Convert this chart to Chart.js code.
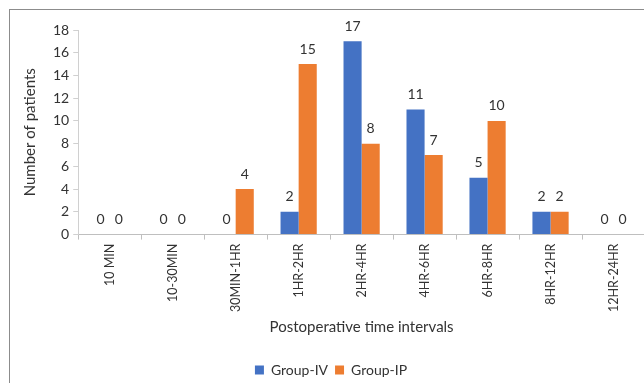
<!DOCTYPE html>
<html>
<head>
<meta charset="utf-8">
<script src="https://cdn.jsdelivr.net/npm/chart.js@4.4.0/dist/chart.umd.min.js"></script>
<style>
  html, body { margin: 0; padding: 0; background: #fff; overflow: hidden; }
  #frame {
    position: absolute; left: 9px; top: 9px;
    width: 655px; height: 380px;
    border-left: 1px solid #8c8c8c; border-top: 1px solid #8c8c8c;
  }
</style>
</head>
<body>
<div id="frame"><canvas id="chart" width="655" height="377"></canvas></div>
<script>
// Categories and series
const intervals = ['10 MIN', '10-30MIN', '30MIN-1HR', '1HR-2HR', '2HR-4HR', '4HR-6HR', '6HR-8HR', '8HR-12HR', '12HR-24HR'];
const groupIV = [0, 0, 0, 2, 17, 11, 5, 2, 0];
const groupIP = [0, 0, 4, 15, 8, 7, 10, 2, 0];
const yTicks = [0, 2, 4, 6, 8, 10, 12, 14, 16, 18];

const textColor = '#333333';
const fontFamily = 'Lato, "Open Sans", sans-serif';

// Draw the value above each bar (zeros too)
const valueLabels = {
    id: 'valueLabels',
    afterDatasetsDraw(chart) {
        const ctx = chart.ctx;
        ctx.save();
        ctx.font = '14px ' + fontFamily;
        ctx.fillStyle = textColor;
        ctx.textAlign = 'center';
        ctx.textBaseline = 'bottom';
        chart.data.datasets.forEach((ds, i) => {
            const meta = chart.getDatasetMeta(i);
            meta.data.forEach((bar, j) => {
                ctx.fillText(String(ds.data[j]), bar.x, bar.y - 8);
            });
        });
        ctx.restore();
    }
};

new Chart(document.getElementById('chart'), {
    type: 'bar',
    data: {
        labels: intervals,
        datasets: [
            { label: 'Group-IV', data: groupIV, backgroundColor: '#4472C4' },
            { label: 'Group-IP', data: groupIP, backgroundColor: '#ED7D31' }
        ]
    },
    options: {
        responsive: false,
        animation: false,
        categoryPercentage: 0.575,
        barPercentage: 1,
        layout: { padding: { top: 20, right: 20, left: 7, bottom: 0 } },
        plugins: {
            legend: {
                position: 'bottom',
                labels: {
                    boxWidth: 9, boxHeight: 9, padding: 7,
                    color: textColor,
                    font: { family: fontFamily, size: 14 }
                }
            },
            tooltip: { enabled: false }
        },
        scales: {
            x: {
                grid: { drawOnChartArea: false, drawTicks: true, tickLength: 5, color: '#bfbfbf', offset: true },
                border: { color: '#bfbfbf' },
                ticks: {
                    color: textColor, minRotation: 90, maxRotation: 90, padding: 4,
                    font: { family: fontFamily, size: 12.5 }
                },
                title: {
                    display: true, text: 'Postoperative time intervals', color: textColor,
                    font: { family: fontFamily, size: 15 }, padding: { top: 2, bottom: 20 }
                }
            },
            y: {
                min: 0, max: 18,
                afterBuildTicks(axis) { axis.ticks = yTicks.map(v => ({ value: v })); },
                grid: { drawOnChartArea: false, drawTicks: true, tickLength: 5, color: '#d0d0d0' },
                border: { color: '#d0d0d0' },
                ticks: { color: textColor, padding: 4, font: { family: fontFamily, size: 14 } },
                title: {
                    display: true, text: 'Number of patients', color: textColor,
                    font: { family: fontFamily, size: 15 }, padding: { bottom: 10 }
                }
            }
        }
    },
    plugins: [valueLabels]
});
</script>
</body>
</html>
